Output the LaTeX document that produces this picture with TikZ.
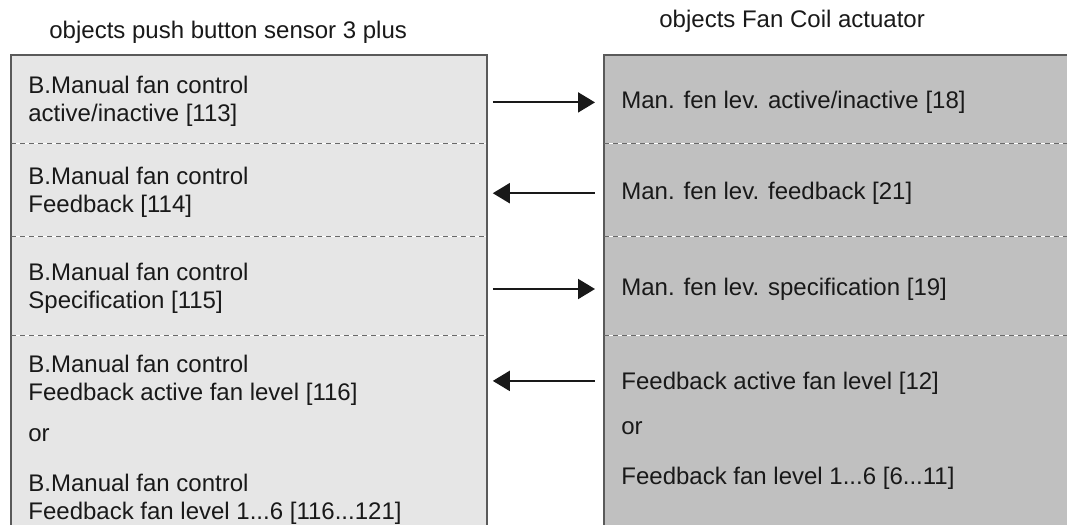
\documentclass[tikz,border=0pt]{standalone}
\usepackage{fontspec}
\setmainfont{Liberation Sans}
\usepackage{xcolor}
\usepackage{tikz}
\usetikzlibrary{arrows.meta, positioning, calc}
\definecolor{senfill}{RGB}{230,230,230}
\definecolor{actfill}{RGB}{192,192,192}
\definecolor{frameline}{RGB}{90,90,90}
\definecolor{dashline}{RGB}{105,105,105}
\definecolor{inkgray}{RGB}{25,25,25}
\tikzstyle{senrow} = [rectangle, fill=senfill, inner sep=0pt, minimum width=237.5pt]
\tikzstyle{actrow} = [rectangle, fill=actfill, inner sep=0pt, minimum width=240pt]
\tikzstyle{objtext} = [inner sep=0pt, align=left, text=inkgray, font=\fontsize{12pt}{14pt}\selectfont]
\tikzstyle{heading} = [inner sep=0pt, text=inkgray, font=\fontsize{12pt}{14pt}\selectfont]
\tikzstyle{boxline} = [draw=frameline, line width=0.75pt]
\tikzstyle{sepline} = [draw=dashline, line width=0.6pt, dash pattern=on 2.5pt off 2pt]
\tikzstyle{arrow} = [draw=inkgray, line width=1pt, shorten <=3pt, shorten >=4.5pt]
\tikzstyle{fwd} = [-{Triangle[length=8.5pt, width=10pt]}]
\tikzstyle{bwd} = [{Triangle[length=8.5pt, width=10pt]}-]

\begin{document}
\begin{tikzpicture}
    \useasboundingbox (0,0) rectangle (533.5pt,-262.5pt);
    \fill[white] (0,0) rectangle (533.5pt,-262.5pt);
    \clip (0,0) rectangle (533.5pt,-262.5pt);

    % headings
    \node (senhead) [heading, anchor=west] at (24.5pt,-16pt) {objects push button sensor 3 plus};
    \node (acthead) [heading, anchor=west] at (329.5pt,-10.5pt) {objects Fan Coil actuator};

    % push button sensor rows
    \node (senA) [senrow, minimum height=44pt, anchor=north west] at (5.5pt,-27.5pt) {};
    \node (senB) [senrow, minimum height=46pt, below=0pt of senA] {};
    \node (senC) [senrow, minimum height=49pt, below=0pt of senB] {};
    \node (senD) [senrow, minimum height=100pt, below=0pt of senC] {};

    % fan coil actuator rows
    \node (actA) [actrow, minimum height=44pt, anchor=north west] at (302pt,-27.5pt) {};
    \node (actB) [actrow, minimum height=46pt, below=0pt of actA] {};
    \node (actC) [actrow, minimum height=49pt, below=0pt of actB] {};
    \node (actD) [actrow, minimum height=100pt, below=0pt of actC] {};

    \draw [boxline] (senA.north west) rectangle (senD.south east);
    \draw [boxline] (actA.north west) rectangle (actD.south east);
    \foreach \row in {A,B,C} {
        \draw [sepline] (sen\row.south west) -- (sen\row.south east);
        \draw [sepline] (act\row.south west) -- (act\row.south east);
    }

    % object texts
    \node (senAtxt) [objtext, right=8.5pt of senA.west, yshift=-1pt] {B.Manual fan control\\active/inactive [113]};
    \node (senBtxt) [objtext, right=8.5pt of senB.west, yshift=-1pt] {B.Manual fan control\\Feedback [114]};
    \node (senCtxt) [objtext, right=8.5pt of senC.west, yshift=-1pt] {B.Manual fan control\\Specification [115]};
    \node (senDtxt) [objtext, below right=9.5pt and 8.5pt of senD.north west] {B.Manual fan control\\Feedback active fan level [116]\\[6.75pt]or\\[10.75pt]B.Manual fan control\\Feedback fan level 1...6 [116...121]};

    \node (actAtxt) [objtext, right=8.5pt of actA.west, yshift=-1.5pt] {Man. fen lev. active/inactive [18]};
    \node (actBtxt) [objtext, right=8.5pt of actB.west, yshift=-1.5pt] {Man. fen lev. feedback [21]};
    \node (actCtxt) [objtext, right=8.5pt of actC.west, yshift=-1.5pt] {Man. fen lev. specification [19]};
    \node (actDtxt) [objtext, below right=18.25pt and 8.5pt of actD.north west] {Feedback active fan level [12]\\[8.25pt]or\\[11.25pt]Feedback fan level 1...6 [6...11]};
    \coordinate (actDin) at ($(actDtxt.north west)+(0,-4.5pt)$);

    % links
    \draw [arrow, fwd] (senA.east |- actAtxt) -- (actA.west |- actAtxt);
    \draw [arrow, bwd] (senB.east |- actBtxt) -- (actB.west |- actBtxt);
    \draw [arrow, fwd] (senC.east |- actCtxt) -- (actC.west |- actCtxt);
    \draw [arrow, bwd] (senD.east |- actDin) -- (actD.west |- actDin);
\end{tikzpicture}
\end{document}
